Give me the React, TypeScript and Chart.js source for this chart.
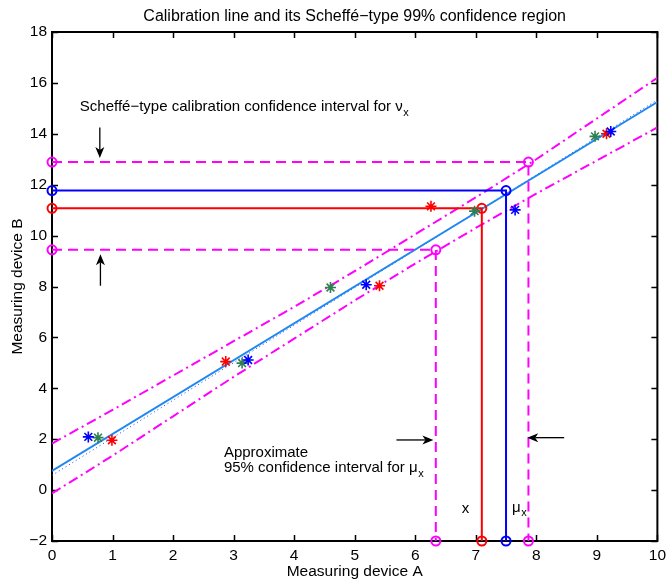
import React, { useEffect, useRef } from 'react';
import { Chart, registerables } from 'chart.js';

Chart.register(...registerables);

const FONT = '"Liberation Sans", Arial, Helvetica, sans-serif';

// Fitted calibration line (solid) and true line (dotted)
const fitX = [0, 10];
const fitY = [0.75, 15.25];
const trueX = [0, 10];
const trueY = [0.58, 15.33];

// Scheffé-type 99% confidence band
const bandX = [0, 1, 2, 3, 4, 5, 6, 7, 8, 9, 10];
const bandUpper = [1.83, 3.15, 4.5, 5.85, 7.2, 8.6, 10.05, 11.5, 13.0, 14.6, 16.2];
const bandLower = [-0.13, 1.35, 2.9, 4.45, 5.95, 7.45, 8.9, 10.3, 11.65, 12.95, 14.25];

// Observations (three series)
const blueX = [0.6, 3.24, 5.19, 7.65, 9.23];
const blueY = [2.09, 5.11, 8.07, 11.01, 14.09];
const greenX = [0.76, 3.14, 4.6, 6.98, 8.97];
const greenY = [2.06, 4.99, 7.96, 10.96, 13.9];
const redX = [0.99, 2.87, 5.41, 6.26, 9.16];
const redY = [1.96, 5.05, 8.03, 11.15, 14.0];

// Calibration read-off paths
const xPathX = [0, 7.1, 7.1];
const xPathY = [11.07, 11.07, -2];
const muPathX = [0, 7.5, 7.5];
const muPathY = [11.77, 11.77, -2];
const hiPathX = [0, 7.87, 7.87];
const hiPathY = [12.89, 12.89, -2];
const loPathX = [0, 6.34, 6.34];
const loPathY = [9.44, 9.44, -2];

// Axis ticks
const xTickVals = [0, 1, 2, 3, 4, 5, 6, 7, 8, 9, 10];
const yTickVals = [-2, 0, 2, 4, 6, 8, 10, 12, 14, 16, 18];

const pts = (xs: number[], ys: number[]) => xs.map((x, i) => ({ x, y: ys[i] }));

const framePlugin = {
  id: 'frame',
  beforeDatasetsDraw(chart: any) {
    const { ctx, chartArea, scales } = chart;
    const { left, right, top, bottom } = chartArea;
    ctx.save();
    ctx.strokeStyle = '#000';
    ctx.lineWidth = 1.5;
    const tl = 6;
    ctx.beginPath();
    xTickVals.forEach((v) => {
      const px = Math.round(scales.x.getPixelForValue(v)) + 0.5;
      ctx.moveTo(px, bottom);
      ctx.lineTo(px, bottom - tl);
      ctx.moveTo(px, top);
      ctx.lineTo(px, top + tl);
    });
    yTickVals.forEach((v) => {
      const py = Math.round(scales.y.getPixelForValue(v)) + 0.5;
      ctx.moveTo(left, py);
      ctx.lineTo(left + tl, py);
      ctx.moveTo(right, py);
      ctx.lineTo(right - tl, py);
    });
    ctx.stroke();
    ctx.lineWidth = 2;
    ctx.strokeRect(left, top, right - left, bottom - top);
    ctx.restore();
  },
};

const annotPlugin = {
  id: 'annot',
  afterDatasetsDraw(chart: any) {
    const { ctx, scales } = chart;
    const X = (v: number) => scales.x.getPixelForValue(v);
    const Y = (v: number) => scales.y.getPixelForValue(v);
    ctx.save();
    ctx.fillStyle = '#000';
    ctx.strokeStyle = '#000';

    const arrow = (x1: number, y1: number, x2: number, y2: number) => {
      const ax = X(x1), ay = Y(y1), bx = X(x2), by = Y(y2);
      const ang = Math.atan2(by - ay, bx - ax);
      const hl = 11, hw = 4.5, notch = 3;
      const cx = Math.cos(ang), sy = Math.sin(ang);
      ctx.lineWidth = 1.3;
      ctx.beginPath();
      ctx.moveTo(ax, ay);
      ctx.lineTo(bx - cx * (hl - notch), by - sy * (hl - notch));
      ctx.stroke();
      ctx.beginPath();
      ctx.moveTo(bx, by);
      ctx.lineTo(bx - cx * hl - sy * hw, by - sy * hl + cx * hw);
      ctx.lineTo(bx - cx * (hl - notch), by - sy * (hl - notch));
      ctx.lineTo(bx - cx * hl + sy * hw, by - sy * hl - cx * hw);
      ctx.closePath();
      ctx.fill();
    };

    arrow(0.79, 14.25, 0.79, 13.05);
    arrow(0.8, 8.03, 0.8, 9.27);
    arrow(5.69, 1.97, 6.3, 1.97);
    arrow(8.46, 2.06, 7.85, 2.06);

    const big = `15px ${FONT}`;
    const small = `11px ${FONT}`;
    ctx.textBaseline = 'middle';
    ctx.textAlign = 'left';

    const withSub = (main: string, sub: string, x: number, y: number) => {
      ctx.font = big;
      const px = X(x), py = Y(y);
      ctx.fillText(main, px, py);
      const w = ctx.measureText(main).width;
      ctx.font = small;
      ctx.fillText(sub, px + w + 0.5, py + 6);
    };

    withSub('Scheffé−type calibration confidence interval for ν', 'x', 0.46, 15.05);
    ctx.font = big;
    ctx.fillText('Approximate', X(2.84), Y(1.47));
    withSub('95% confidence interval for μ', 'x', 2.84, 0.88);
    ctx.font = big;
    ctx.fillText('x', X(6.77), Y(-0.75));
    withSub('μ', 'x', 7.6, -0.68);
    ctx.restore();
  },
};

export default function App() {
  const ref = useRef<HTMLCanvasElement>(null);
  useEffect(() => {
    if (!ref.current) return;
    const star = (xs: number[], ys: number[], color: string) => ({
      data: pts(xs, ys),
      showLine: false,
      pointStyle: 'star',
      pointRadius: 5.5,
      pointBorderWidth: 1.6,
      pointBorderColor: color,
      pointBackgroundColor: color,
      borderColor: color,
      clip: false,
    });
    const path = (xs: number[], ys: number[], color: string, dash: number[]) => ({
      data: pts(xs, ys),
      showLine: true,
      borderColor: color,
      borderWidth: 2,
      borderDash: dash,
      pointStyle: 'circle',
      pointRadius: 4.5,
      pointBorderWidth: 2,
      pointBorderColor: color,
      pointBackgroundColor: 'rgba(0,0,0,0)',
      clip: false,
    });
    const line = (xs: number[], ys: number[], color: string, width: number, dash: number[]) => ({
      data: pts(xs, ys),
      showLine: true,
      borderColor: color,
      borderWidth: width,
      borderDash: dash,
      pointRadius: 0,
      tension: 0,
    });
    const chart = new Chart(ref.current, {
      type: 'scatter',
      data: {
        datasets: [
          star(blueX, blueY, '#0000ff'),
          star(greenX, greenY, '#2e8050'),
          star(redX, redY, '#ff0000'),
          path(xPathX, xPathY, '#ff0000', []),
          path(muPathX, muPathY, '#0000ff', []),
          path(hiPathX, hiPathY, '#ff00ff', [10, 6]),
          path(loPathX, loPathY, '#ff00ff', [10, 6]),
          line(bandX, bandUpper, '#ff00ff', 2, [10, 4, 2, 4]),
          line(bandX, bandLower, '#ff00ff', 2, [10, 4, 2, 4]),
          line(fitX, fitY, '#1e88f0', 2, []),
          line(trueX, trueY, '#2040ff', 1, [1, 3]),
        ] as any,
      },
      options: {
        responsive: false,
        animation: false,
        devicePixelRatio: 1,
        layout: { padding: { left: 0, right: 10, top: 0, bottom: 0 } },
        plugins: {
          legend: { display: false },
          tooltip: { enabled: false },
          title: {
            display: true,
            fullSize: false,
            text: 'Calibration line and its Scheffé−type 99% confidence region',
            color: '#000',
            font: { family: FONT, size: 16, weight: 'normal' },
            padding: { top: 7, bottom: 5.8 },
          },
        },
        scales: {
          x: {
            type: 'linear',
            min: 0,
            max: 10,
            grid: { display: false, drawTicks: false },
            border: { display: false },
            ticks: {
              stepSize: 1,
              color: '#000',
              autoSkip: false,
              maxRotation: 0,
              padding: 5,
              font: { family: FONT, size: 15.5 },
            },
            title: {
              display: true,
              text: 'Measuring device A',
              color: '#000',
              font: { family: FONT, size: 15.5 },
              padding: { top: 0, bottom: 0 },
            },
            afterFit: (s: any) => {
              s.height = 40;
            },
          },
          y: {
            type: 'linear',
            min: -2,
            max: 18,
            grid: { display: false, drawTicks: false },
            border: { display: false },
            ticks: {
              stepSize: 2,
              color: '#000',
              autoSkip: false,
              padding: 5,
              font: { family: FONT, size: 15.5 },
              callback: (v: any) => (Number(v) < 0 ? '−' + Math.abs(Number(v)) : String(v)),
            },
            title: {
              display: true,
              text: 'Measuring device B',
              color: '#000',
              font: { family: FONT, size: 15.5 },
              padding: { top: 8, bottom: 0 },
            },
            afterFit: (s: any) => {
              s.width = 52;
            },
          },
        },
      } as any,
      plugins: [framePlugin, annotPlugin],
    });
    return () => chart.destroy();
  }, []);
  return (
    <div style={{ position: 'fixed', left: 0, top: 0, width: 671, height: 581, background: '#fff' }}>
      <canvas ref={ref} width={671} height={581} style={{ display: 'block' }} />
    </div>
  );
}
